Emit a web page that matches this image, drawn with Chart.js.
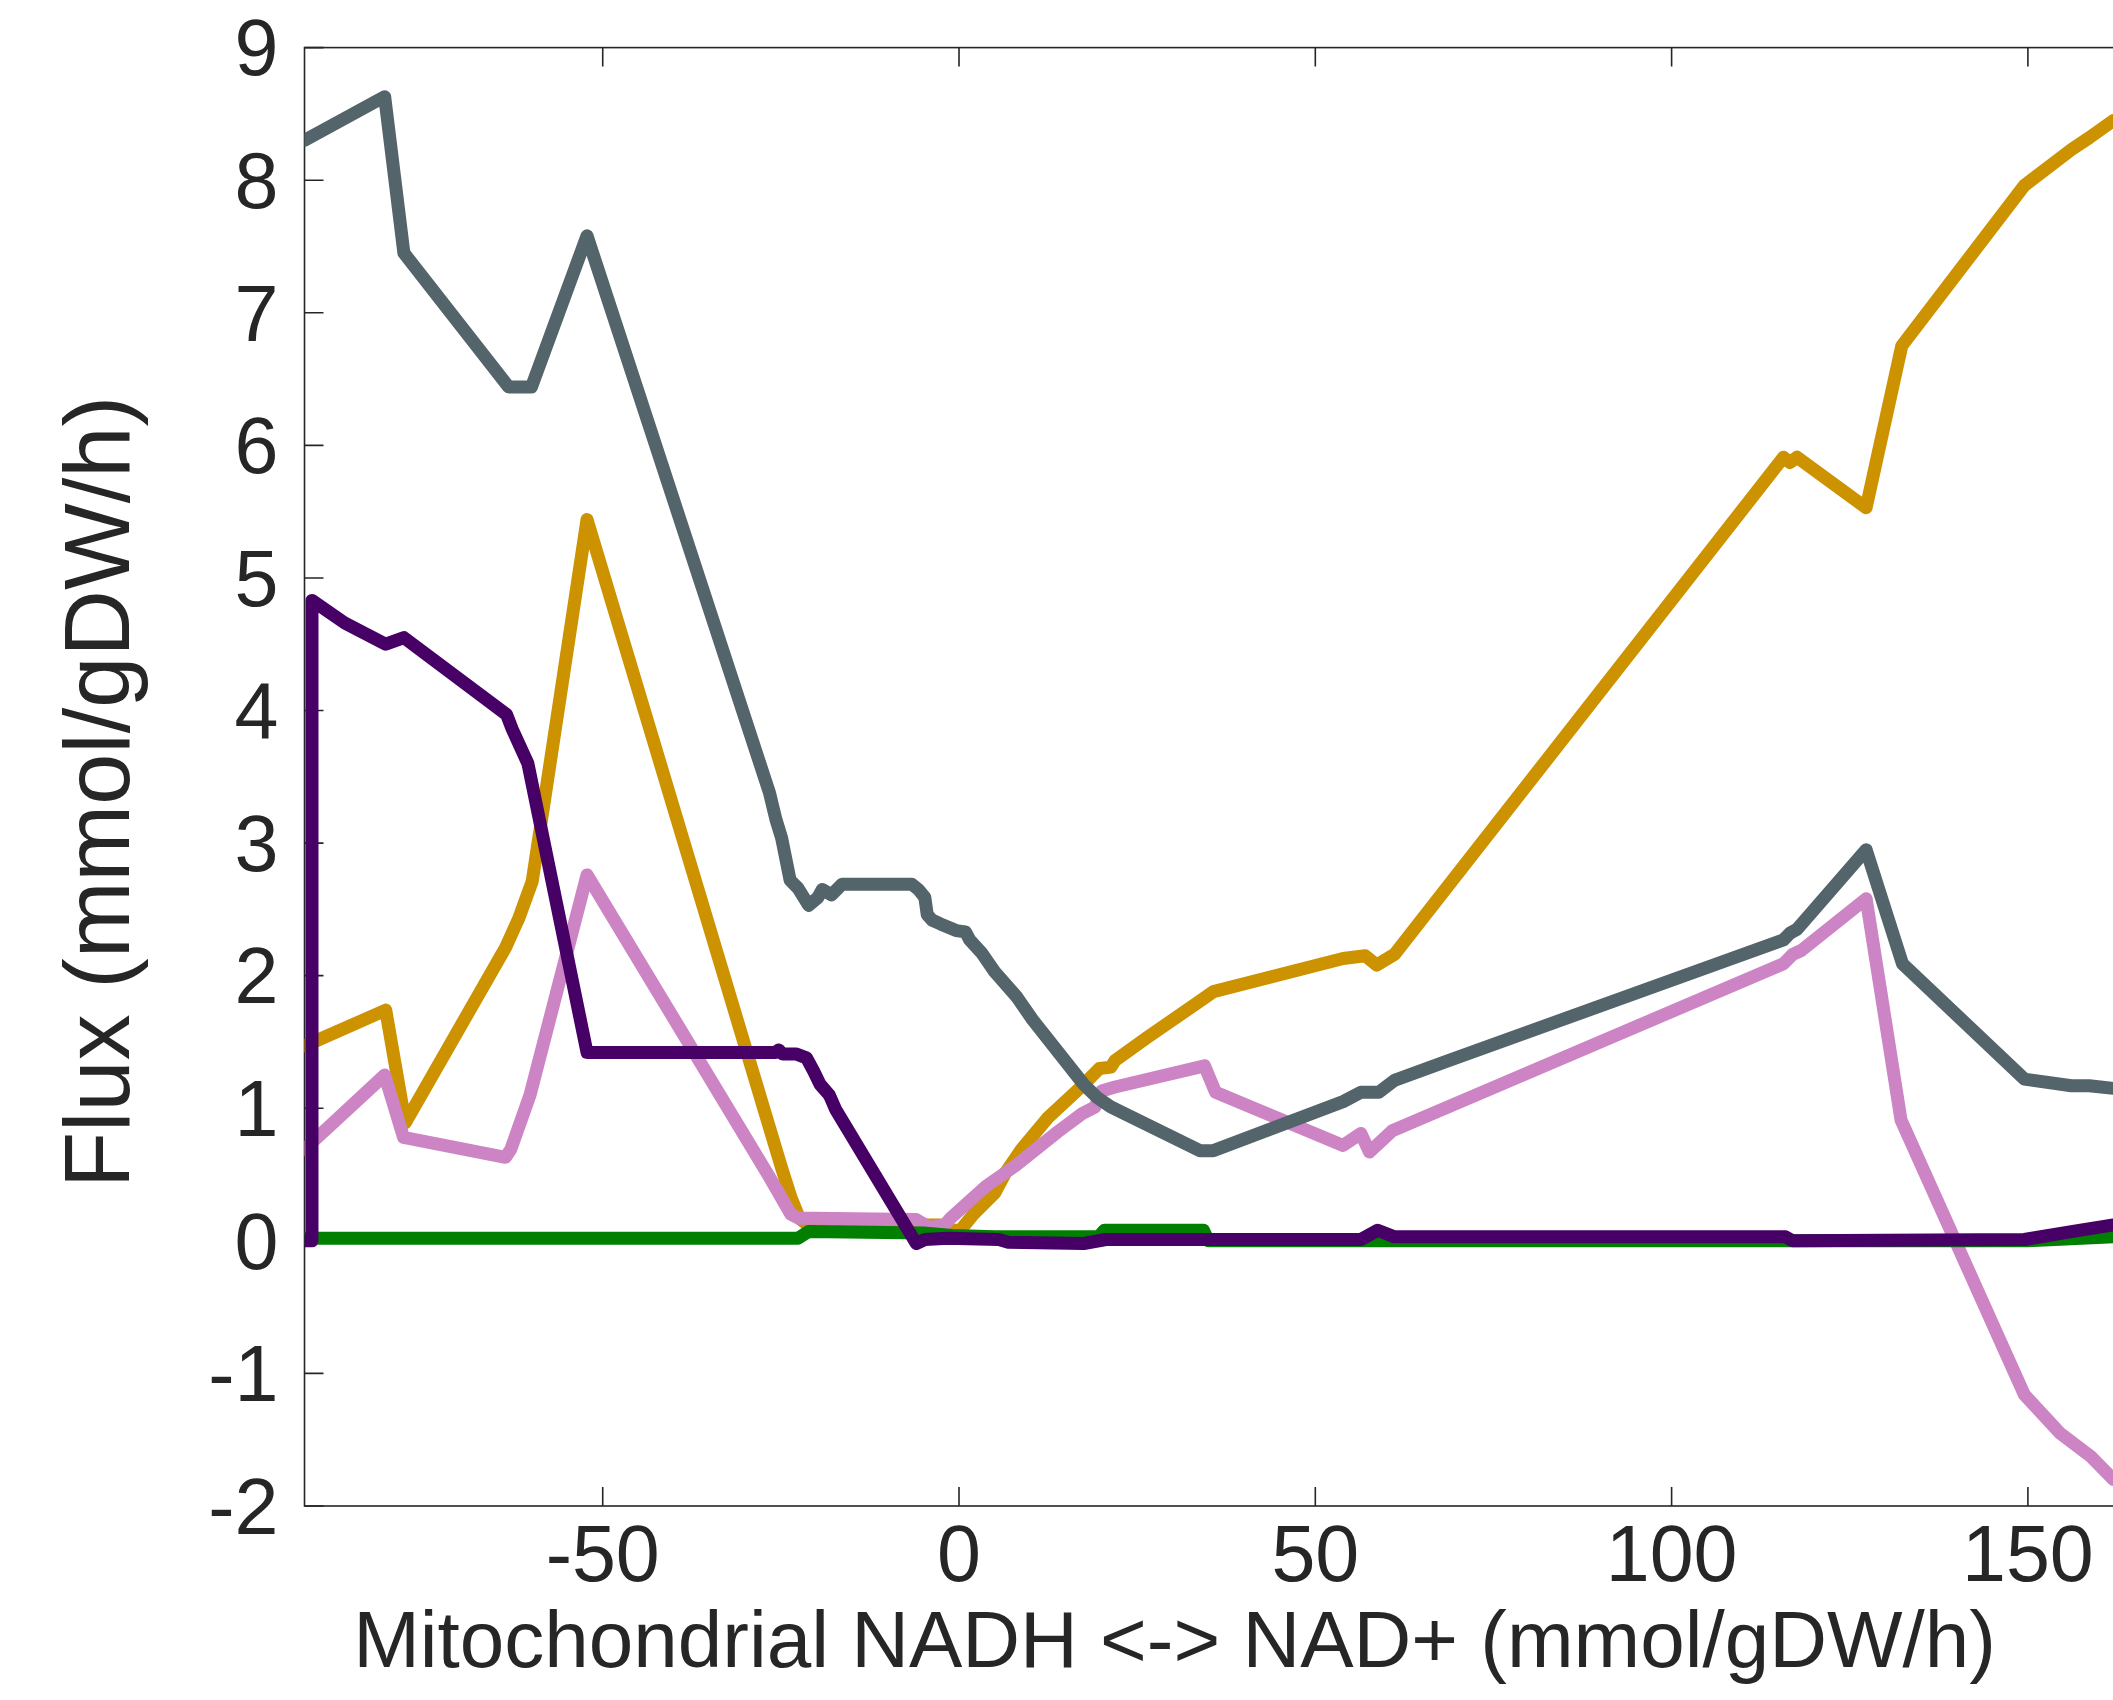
<!DOCTYPE html>
<html>
<head>
<meta charset="utf-8">
<script src="https://cdn.jsdelivr.net/npm/chart.js@4.4.1/dist/chart.umd.min.js"></script>
<style>
html,body{margin:0;padding:0;background:#fff;overflow:hidden;width:2113px;height:1700px}
#wrap{position:absolute;left:0;top:0;width:2400px;height:1700px}
</style>
</head>
<body>
<div id="wrap"><canvas id="c" width="2400" height="1700"></canvas></div>
<script>
// ---- titles / ticks ----
const xTitle = 'Mitochondrial NADH <-> NAD+ (mmol/gDW/h)';
const yTitle = 'Flux (mmol/gDW/h)';
const xRange = [-91.85, 200];
const yRange = [-2, 9];
const xStep = 50;
const yStep = 1;

// ---- series ----
const grayX = [-91.85,-80.6,-77.9,-63.2,-60.0,-52.2,-26.6,-25.7,-24.9,-23.7,-22.6,-21.1,-19.8,-19.2,-17.9,-16.4,-6.65,-5.7,-4.8,-4.46,-3.8,-2.6,-0.4,0.9,1.5,3.2,5.0,6.3,8.1,10.3,17.5,19.4,21.3,33.8,35.7,53.9,56.4,58.9,61.1,68.2,115.7,116.6,117.6,127.3,132.4,149.5,156.1,158.6,162.0];
const grayY = [8.30,8.63,7.45,6.44,6.44,7.58,3.38,3.18,3.04,2.72,2.66,2.53,2.59,2.65,2.61,2.69,2.69,2.65,2.59,2.46,2.42,2.39,2.34,2.33,2.27,2.17,2.03,1.95,1.84,1.67,1.18,1.08,1.01,0.68,0.68,1.05,1.12,1.12,1.21,1.35,2.27,2.32,2.35,2.95,2.09,1.22,1.17,1.17,1.15];

const orangeX = [-91.85,-80.45,-77.7,-63.65,-61.8,-59.9,-52.2,-24.9,-23.6,-22.4,-21.5,-4.5,-2.5,-1.0,0.2,2.0,5.0,6.6,8.75,12.5,17.5,19.7,21.3,21.9,26.3,34.1,35.7,53.9,57.0,58.6,61.1,115.7,116.6,117.6,127.3,132.3,149.5,156.1,158.6,162.0];
const orangeY = [1.47,1.74,0.89,2.21,2.43,2.71,5.44,0.55,0.33,0.17,0.13,0.12,0.12,0.08,0.08,0.20,0.36,0.52,0.69,0.93,1.18,1.30,1.31,1.36,1.53,1.82,1.88,2.13,2.15,2.08,2.16,5.91,5.87,5.91,5.53,6.75,7.96,8.23,8.32,8.45];

const pinkX = [-91.85,-80.6,-77.95,-63.65,-62.9,-60.2,-52.2,-26.7,-23.6,-22.5,-20.4,-6.0,-4.1,-2.0,-1.2,3.75,8.0,13.8,17.3,19.1,20.0,21.9,34.45,36.0,53.9,56.4,57.6,60.8,115.7,117.0,118.2,127.3,132.2,149.5,154.5,158.9,162.0];
const pinkY = [0.69,1.25,0.78,0.63,0.69,1.10,2.76,0.49,0.20,0.17,0.17,0.16,0.10,0.12,0.17,0.41,0.57,0.82,0.96,1.01,1.13,1.16,1.32,1.12,0.72,0.81,0.67,0.83,2.09,2.16,2.19,2.58,0.91,-1.16,-1.45,-1.63,-1.80];

const purpleX = [-91.85,-90.9,-90.8,-86.2,-80.45,-77.9,-63.5,-62.7,-60.5,-52.2,-25.8,-25.3,-24.8,-22.9,-21.4,-20.4,-19.5,-18.2,-17.3,-6.0,-4.8,-1.6,5.6,6.9,17.5,20.6,56.4,58.75,61.1,116.0,117.0,149.5,156.1,162.0];
const purpleY = [0.0,0.0,4.83,4.66,4.50,4.55,3.97,3.86,3.60,1.42,1.42,1.44,1.41,1.41,1.38,1.28,1.18,1.10,0.99,-0.02,0.01,0.02,0.01,-0.01,-0.02,0.01,0.01,0.08,0.03,0.03,0.0,0.01,0.07,0.12];

const greenX = [-91.85,-22.6,-21.1,-5.0,-1.0,5.0,19.6,20.4,34.3,35.0,116.0,150.0,162.0];
const greenY = [0.02,0.02,0.07,0.06,0.04,0.03,0.03,0.08,0.08,0.0,0.0,0.0,0.03];

const pts = (xs, ys) => xs.map((x, i) => ({x: x, y: ys[i]}));

const AXC = '#262626';
const FONT = "'Liberation Sans', Arial, Helvetica, sans-serif";

const boxPlugin = {
  id: 'box',
  beforeDatasetsDraw(chart) {
    const {ctx, chartArea: a, scales: {x, y}} = chart;
    ctx.save();
    ctx.strokeStyle = AXC;
    ctx.lineWidth = 1.6;
    ctx.strokeRect(a.left, a.top, a.right - a.left, a.bottom - a.top);
    ctx.beginPath();
    x.ticks.forEach(t => {
      const p = x.getPixelForValue(t.value);
      ctx.moveTo(p, a.bottom); ctx.lineTo(p, a.bottom - 19);
      ctx.moveTo(p, a.top); ctx.lineTo(p, a.top + 19);
    });
    y.ticks.forEach(t => {
      const p = y.getPixelForValue(t.value);
      ctx.moveTo(a.left, p); ctx.lineTo(a.left + 19, p);
      ctx.moveTo(a.right, p); ctx.lineTo(a.right - 19, p);
    });
    ctx.stroke();
    ctx.restore();
  },
  afterDraw(chart) {
    const {ctx, chartArea: a} = chart;
    ctx.save();
    ctx.fillStyle = AXC;
    ctx.textAlign = 'center';
    ctx.textBaseline = 'alphabetic';
    ctx.font = '80px ' + FONT;
    ctx.fillText(xTitle, a.left + 870, 1667);
    ctx.translate(129, 792);
    ctx.rotate(-Math.PI / 2);
    ctx.font = '92px ' + FONT;
    ctx.fillText(yTitle, 0, 0);
    ctx.restore();
  }
};

const ds = (label, xs, ys, color, order) => ({
  label: label,
  data: pts(xs, ys),
  borderColor: color,
  backgroundColor: color,
  borderWidth: 13,
  pointRadius: 0,
  tension: 0,
  fill: false,
  clip: 0,
  order: order,
  borderJoinStyle: 'round',
  borderCapStyle: 'round'
});

new Chart(document.getElementById('c'), {
  type: 'line',
  data: {
    datasets: [
      ds('series 1', orangeX, orangeY, '#cc9200', 4),
      ds('series 2', pinkX, pinkY, '#cd84c5', 3),
      ds('series 3', grayX, grayY, '#53646b', 2),
      ds('series 4', greenX, greenY, '#007f00', 1),
      ds('series 5', purpleX, purpleY, '#460066', 0)
    ]
  },
  options: {
    responsive: false,
    animation: false,
    devicePixelRatio: 1,
    layout: {padding: {left: 0, top: 47.6, right: 15.8, bottom: 0}},
    plugins: {legend: {display: false}, tooltip: {enabled: false}},
    scales: {
      x: {
        type: 'linear',
        min: xRange[0], max: xRange[1],
        grid: {display: false, drawTicks: false},
        border: {display: false},
        ticks: {stepSize: xStep, includeBounds: false, autoSkip: false, maxRotation: 0,
                color: AXC, font: {family: FONT, size: 79}, padding: 6},
        afterFit(s) { s.height = 194; s.paddingLeft = 0; s.paddingRight = 0; s.paddingTop = 0; s.paddingBottom = 0; }
      },
      y: {
        type: 'linear',
        min: yRange[0], max: yRange[1],
        grid: {display: false, drawTicks: false},
        border: {display: false},
        ticks: {stepSize: yStep, includeBounds: false, autoSkip: false, labelOffset: 6,
                color: AXC, font: {family: FONT, size: 79}, padding: 26},
        afterFit(s) { s.width = 304.5; s.paddingLeft = 0; s.paddingRight = 0; s.paddingTop = 0; s.paddingBottom = 0; }
      }
    }
  },
  plugins: [boxPlugin]
});
</script>
</body>
</html>
